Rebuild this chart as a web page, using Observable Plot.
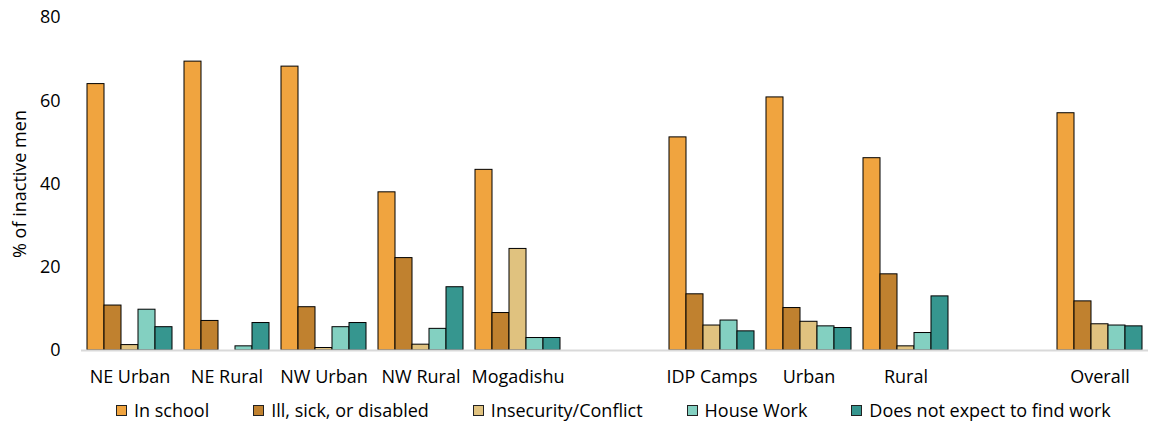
<!DOCTYPE html>
<html>
<head>
<meta charset="utf-8">
<script src="https://cdn.jsdelivr.net/npm/d3@7"></script>
<script src="https://cdn.jsdelivr.net/npm/@observablehq/plot@0.6"></script>
<style>
  body { margin: 0; background: #fff; font-family: "Open Sans", sans-serif; }
  #chart { width: 1150px; }
  #legend { display: flex; align-items: center; height: 30px; padding-left: 116px; font-size: 18px; color: #000; gap: 44px; white-space: nowrap; }
  .item { display: flex; align-items: center; flex-shrink: 0; }
  .sw { width: 9px; height: 9px; border: 1px solid #222; margin-right: 7px; flex-shrink: 0; }
</style>
</head>
<body>
<div id="chart"></div>
<script>
const categories = ["NE Urban", "NE Rural", "NW Urban", "NW Rural", "Mogadishu", "gap1", "IDP Camps", "Urban", "Rural", "gap2", "Overall"];
const seriesNames = ["In school", "Ill, sick, or disabled", "Insecurity/Conflict", "House Work", "Does not expect to find work"];
const seriesColors = ["#F0A43F", "#C0812F", "#E0C27F", "#83D0C1", "#36968F"];

const inSchool     = [64.0, 69.4, 68.2, 38.0, 43.4, null, 51.2, 60.8, 46.2, null, 57.0];
const illSick      = [10.8,  7.1, 10.4, 22.2,  9.0, null, 13.5, 10.2, 18.3, null, 11.8];
const insecurity   = [ 1.3, null,  0.6,  1.4, 24.4, null,  6.0,  6.9,  1.0, null,  6.3];
const houseWork    = [ 9.8,  1.0,  5.6,  5.2,  3.0, null,  7.2,  5.8,  4.2, null,  6.0];
const notExpect    = [ 5.6,  6.6,  6.6, 15.2,  3.0, null,  4.6,  5.4, 13.0, null,  5.8];

const yTicks = [0, 20, 40, 60, 80];

const seriesValues = [inSchool, illSick, insecurity, houseWork, notExpect];
const rows = [];
categories.forEach((c, i) => {
  seriesNames.forEach((s, j) => {
    rows.push({category: c, series: s, value: seriesValues[j][i]});
  });
});

const chart = Plot.plot({
  width: 1150,
  height: 395,
  marginLeft: 79,
  marginRight: 0,
  marginTop: 17,
  marginBottom: 45,
  style: { fontFamily: "Open Sans, sans-serif", fontSize: "18px", color: "#000", background: "#fff" },
  fx: { domain: categories, padding: 0, label: null },
  x: { domain: seriesNames, axis: null, paddingInner: 0, paddingOuter: 0.22 },
  y: { domain: [0, 80], label: null },
  color: { domain: seriesNames, range: seriesColors },
  marks: [
    Plot.axisY(yTicks, { facetAnchor: "left", tickSize: 0, tickPadding: 21, label: null }),
    Plot.text(["% of inactive men"], { frameAnchor: "left", textAnchor: "middle", dx: -61, rotate: -90, fontSize: 18, facetAnchor: "left", fill: "#000" }),
    Plot.axisFx({ anchor: "bottom", tickSize: 0, tickPadding: 20, label: null,
                  tickFormat: d => d.startsWith("gap") ? "" : d }),
    Plot.barY(rows, { fx: "category", x: "series", y: "value", fill: "series", stroke: "#000", strokeWidth: 1 }),
    Plot.ruleY([0], { stroke: "#d9d9d9", strokeWidth: 2 })
  ]
});
document.getElementById("chart").appendChild(chart);

const legend = document.createElement("div");
legend.id = "legend";
seriesNames.forEach((s, j) => {
  const item = document.createElement("div");
  item.className = "item";
  const sw = document.createElement("div");
  sw.className = "sw";
  sw.style.background = seriesColors[j];
  const t = document.createElement("span");
  t.textContent = s;
  item.appendChild(sw);
  item.appendChild(t);
  legend.appendChild(item);
});
document.getElementById("chart").appendChild(legend);
</script>
</body>
</html>
